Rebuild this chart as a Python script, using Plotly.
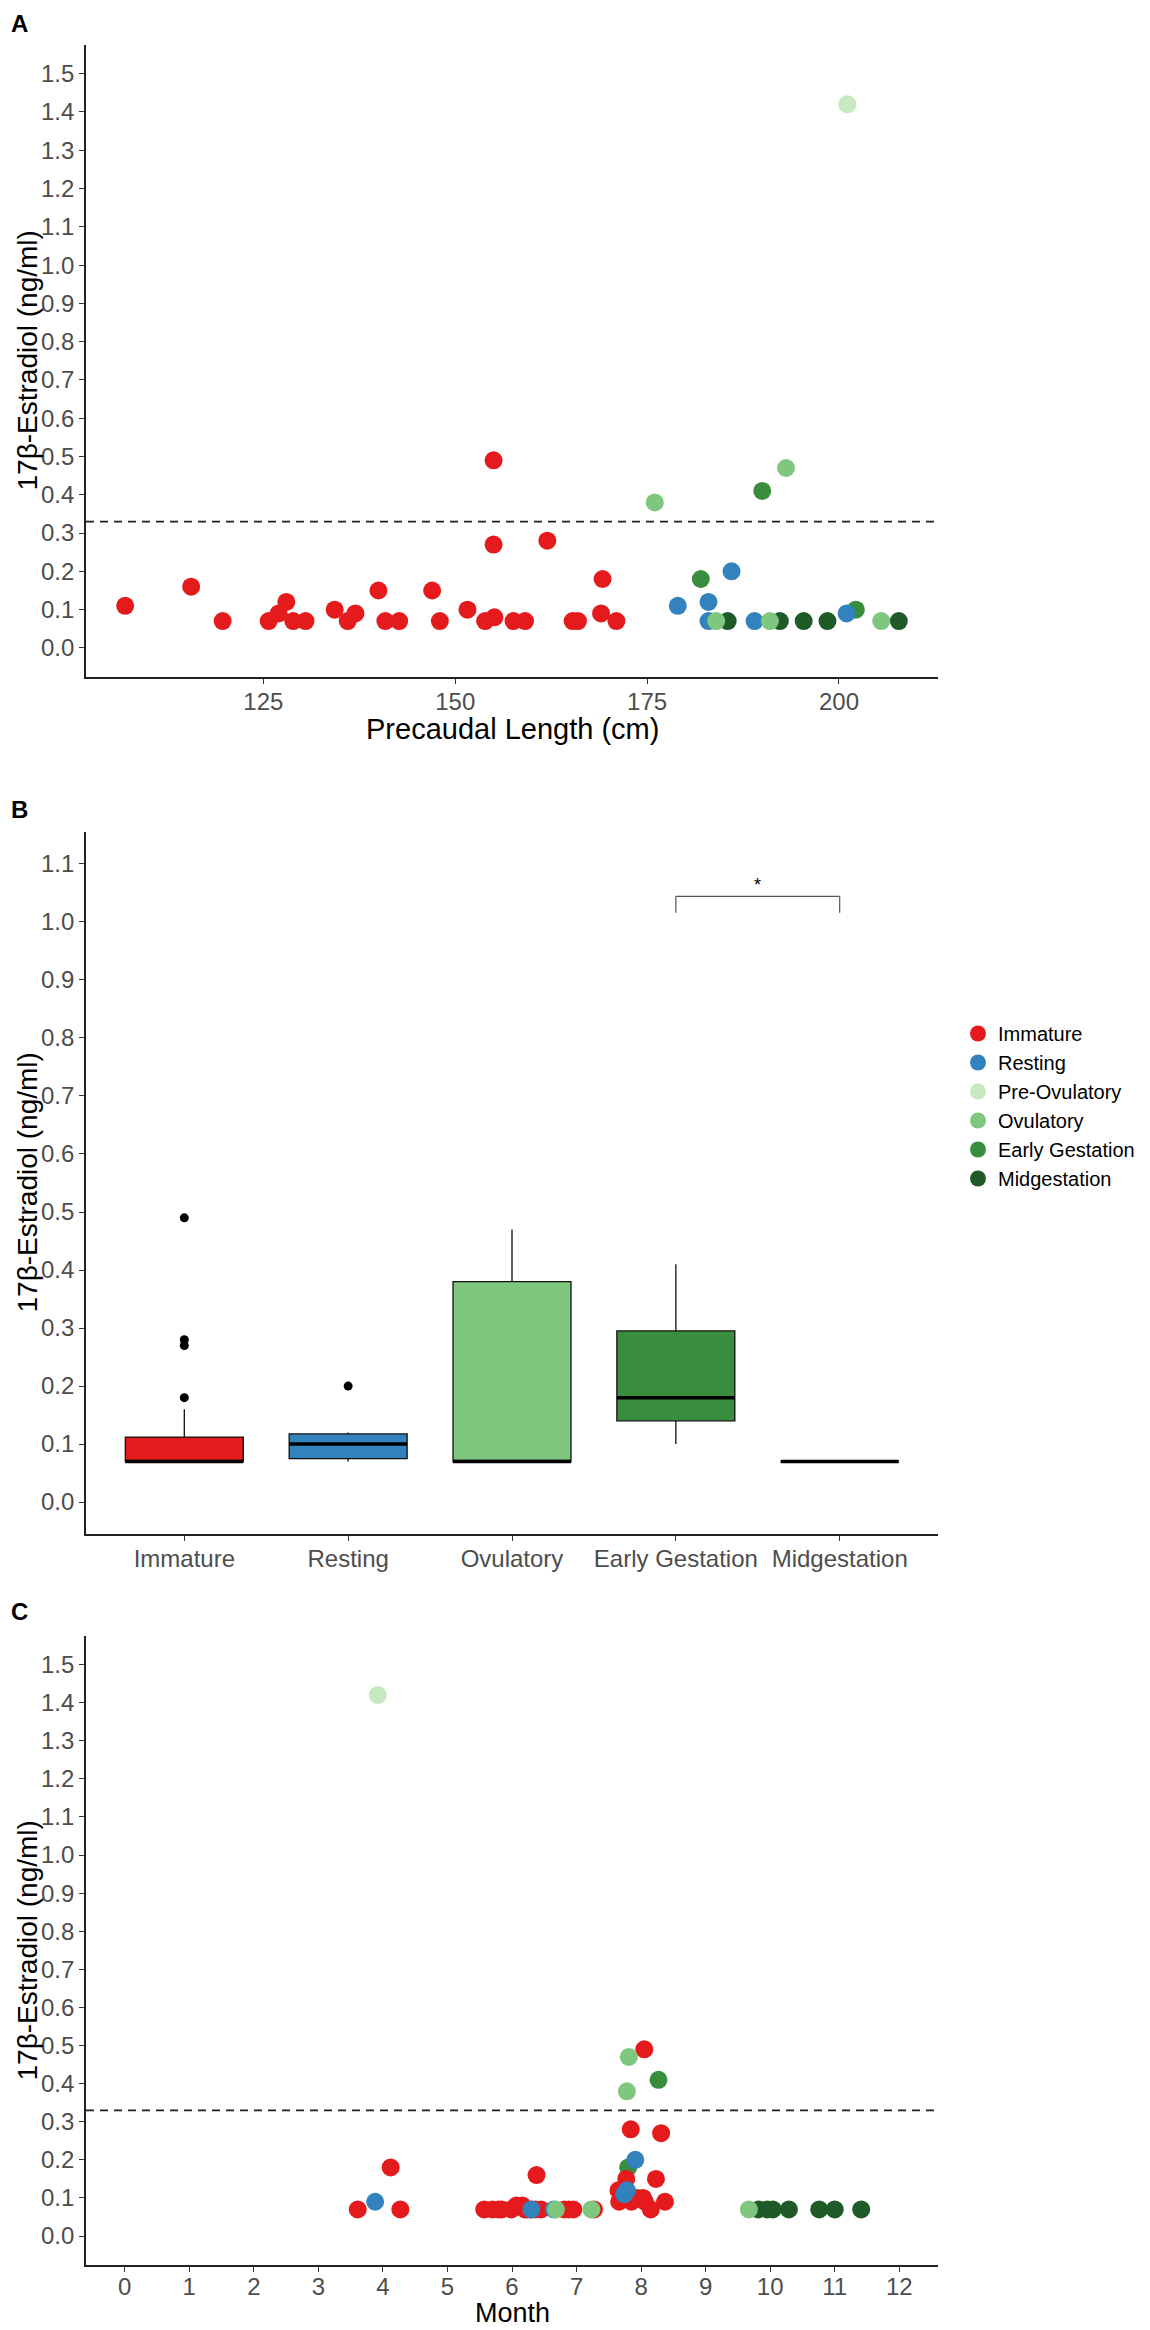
import plotly.graph_objects as go

# stage names and colours
stages = ["Immature", "Resting", "Pre-Ovulatory", "Ovulatory", "Early Gestation", "Midgestation"]
stage_colors = ["#E41A1C", "#3182BD", "#C7E9C0", "#7FC77F", "#388E3C", "#1F5A28"]

# panel A: precaudal length (cm) vs estradiol (ng/ml)
imm_len = [107, 115.6, 119.7, 125.7, 127.0, 128.0, 128.9, 130.5, 134.3, 136.0, 137.0, 140.0, 140.9, 142.7, 147.0,
           148.0, 151.6, 153.9, 155.1, 155.0, 155.0, 157.6, 159.1, 162.0, 165.3, 166.0, 169.0, 169.2, 171.0]
imm_e2_a = [0.11, 0.16, 0.07, 0.07, 0.09, 0.12, 0.07, 0.07, 0.10, 0.07, 0.09, 0.15, 0.07, 0.07, 0.15,
            0.07, 0.10, 0.07, 0.08, 0.27, 0.49, 0.07, 0.07, 0.28, 0.07, 0.07, 0.09, 0.18, 0.07]
rest_len = [179.0, 183.0, 183.0, 186.0, 189.0, 201.0]
rest_e2_a = [0.11, 0.12, 0.07, 0.20, 0.07, 0.09]
preov_len = [201.1]
preov_e2_a = [1.42]
ov_len = [176.0, 184.0, 191.0, 193.1, 205.5]
ov_e2_a = [0.38, 0.07, 0.07, 0.47, 0.07]
early_len = [182.0, 190.0, 202.2]
early_e2_a = [0.18, 0.41, 0.10]
mid_len = [185.5, 192.3, 195.4, 198.5, 207.8]
mid_e2_a = [0.07, 0.07, 0.07, 0.07, 0.07]

# panel B: box statistics per stage
box_stages = ["Immature", "Resting", "Ovulatory", "Early Gestation", "Midgestation"]
box_colors = ["#E41A1C", "#3182BD", "#7FC77F", "#388E3C", "#1F5A28"]
box_q1 = [0.07, 0.075, 0.07, 0.14, 0.07]
box_med = [0.07, 0.10, 0.07, 0.18, 0.07]
box_q3 = [0.112, 0.1175, 0.38, 0.295, 0.07]
box_lo = [0.07, 0.07, 0.07, 0.10, 0.07]
box_hi = [0.16, 0.12, 0.47, 0.41, 0.07]
out_stage = ["Immature", "Immature", "Immature", "Immature", "Resting"]
out_e2 = [0.49, 0.28, 0.27, 0.18, 0.20]

# panel C: month vs estradiol
imm_month = [3.61, 4.12, 4.27, 5.57, 5.70, 5.79, 5.84, 5.99, 6.07, 6.16, 6.20, 6.24, 6.30, 6.36, 6.38, 6.45, 6.81,
             6.88, 6.95, 7.27, 7.65, 7.66, 7.77, 7.84, 7.85, 7.90, 8.03, 8.05, 8.06, 8.15, 8.23, 8.31, 8.37]
imm_e2_c = [0.07, 0.18, 0.07, 0.07, 0.07, 0.07, 0.07, 0.07, 0.08, 0.08, 0.07, 0.07, 0.07, 0.07, 0.16, 0.07, 0.07,
            0.07, 0.07, 0.07, 0.12, 0.09, 0.15, 0.28, 0.09, 0.10, 0.10, 0.49, 0.09, 0.07, 0.15, 0.27, 0.09]
rest_month = [3.88, 6.30, 6.65, 7.74, 7.78, 7.91]
rest_e2_c = [0.09, 0.07, 0.07, 0.11, 0.12, 0.20]
preov_month = [3.92]
preov_e2_c = [1.42]
ov_month = [6.68, 7.23, 7.78, 7.81, 9.67]
ov_e2_c = [0.07, 0.07, 0.38, 0.47, 0.07]
early_month = [7.80, 7.95, 8.27]
early_e2_c = [0.18, 0.10, 0.41]
mid_month = [9.82, 9.96, 10.04, 10.29, 10.76, 11.00, 11.41]
mid_e2_c = [0.07, 0.07, 0.07, 0.07, 0.07, 0.07, 0.07]

threshold = 0.33

OFF = 8  ## the page body has an 8px margin, so the figure starts at (8, 8)
W, H = 1150 - OFF, 2330 - OFF
FONT = "Liberation Sans, Arial, sans-serif"
TICK_GREY = "#4D4D4D"

def px_x(p):  ## page pixel -> paper fraction
    return (p - OFF) / W

def px_y(p):
    return 1 - (p - OFF) / H

fig = go.Figure()

a_data = [(imm_len, imm_e2_a), (rest_len, rest_e2_a), (preov_len, preov_e2_a),
          (ov_len, ov_e2_a), (early_len, early_e2_a), (mid_len, mid_e2_a)]
c_data = [(imm_month, imm_e2_c), (rest_month, rest_e2_c), (preov_month, preov_e2_c),
          (ov_month, ov_e2_c), (early_month, early_e2_c), (mid_month, mid_e2_c)]
draw_order = [5, 4, 0, 1, 3, 2]

for i in draw_order:
    x, y = a_data[i]
    fig.add_trace(go.Scatter(x=x, y=y, mode="markers", name=stages[i], legendrank=i + 1,
                             marker=dict(color=stage_colors[i], size=18, line=dict(width=0)),
                             xaxis="x", yaxis="y"))
for i in draw_order:
    x, y = c_data[i]
    fig.add_trace(go.Scatter(x=x, y=y, mode="markers", name=stages[i], showlegend=False,
                             marker=dict(color=stage_colors[i], size=18, line=dict(width=0)),
                             xaxis="x3", yaxis="y3"))

for i, s in enumerate(box_stages):
    fig.add_trace(go.Box(x=[s], q1=[box_q1[i]], median=[box_med[i]], q3=[box_q3[i]],
                         lowerfence=[box_lo[i]], upperfence=[box_hi[i]], width=0.72,
                         whiskerwidth=0, fillcolor=box_colors[i], line=dict(color="#111111", width=1.3),
                         showlegend=False, hoverinfo="skip", xaxis="x2", yaxis="y2"))
fig.add_trace(go.Scatter(x=out_stage, y=out_e2, mode="markers", showlegend=False,
                         marker=dict(color="black", size=9), xaxis="x2", yaxis="y2"))

shapes = []
for i, m in enumerate(box_med):  ## thicker median bar like ggplot
    shapes.append(dict(type="line", xref="x2", yref="y2", x0=i - 0.36, x1=i + 0.36, y0=m, y1=m,
                       line=dict(color="black", width=3.5)))
for ax in ["", "3"]:
    shapes.append(dict(type="line", xref=f"x{ax} domain", yref=f"y{ax}", x0=0, x1=1,
                       y0=threshold, y1=threshold, line=dict(color="#222222", width=1.8, dash="8px,6px")))
# significance bracket between Early Gestation and Midgestation
for x0, y0, x1, y1 in [(3, 1.016, 3, 1.044), (3, 1.044, 4, 1.044), (4, 1.044, 4, 1.016)]:
    shapes.append(dict(type="line", xref="x2", yref="y2", x0=x0, y0=y0, x1=x1, y1=y1,
                       line=dict(color="#555555", width=1.2)))

axis_common = dict(showline=True, linecolor="#222222", linewidth=1.6, ticks="outside", ticklen=5,
                   tickwidth=1.4, tickcolor="#333333", showgrid=False, zeroline=False,
                   tickfont=dict(family=FONT, size=24, color=TICK_GREY))
xdom = [px_x(86), px_x(938)]

fig.update_layout(
    width=W, height=H, margin=dict(l=0, r=0, t=0, b=0),
    paper_bgcolor="white", plot_bgcolor="white",
    font=dict(family=FONT, color="black"),
    xaxis=dict(domain=xdom, range=[101.9, 212.9], tickvals=[125, 150, 175, 200], anchor="y",
               ticklabelstandoff=-3, **axis_common),
    yaxis=dict(domain=[px_y(677), px_y(45)], range=[-0.076, 1.575], tickvals=[k / 10 for k in range(16)],
               tickformat=".1f", anchor="x", **axis_common),
    xaxis2=dict(domain=xdom, type="category", categoryorder="array", categoryarray=box_stages,
                range=[-0.6, 4.6], anchor="y2", ticklabelstandoff=-3, **axis_common),
    yaxis2=dict(domain=[px_y(1534), px_y(832)], range=[-0.055, 1.155], tickvals=[k / 10 for k in range(12)],
                tickformat=".1f", anchor="x2", **axis_common),
    xaxis3=dict(domain=xdom, range=[-0.6, 12.6], tickvals=list(range(13)), anchor="y3",
                ticklabelstandoff=-6, **axis_common),
    yaxis3=dict(domain=[px_y(2265), px_y(1636)], range=[-0.076, 1.575], tickvals=[k / 10 for k in range(16)],
                tickformat=".1f", anchor="x3", **axis_common),
    boxmode="overlay",
    shapes=shapes,
    legend=dict(x=px_x(958), y=px_y(1014), xanchor="left", yanchor="top",
                font=dict(family=FONT, size=20, color="black"), bgcolor="rgba(0,0,0,0)",
                tracegroupgap=0),
)

ann = []
for label, ytop in [("A", 8), ("B", 794), ("C", 1596)]:
    ann.append(dict(text=f"<b>{label}</b>", x=px_x(9), y=px_y(ytop), xref="paper", yref="paper",
                    xanchor="left", yanchor="top", showarrow=False,
                    font=dict(family=FONT, size=24, color="black")))
ytitle = "17\u03b2-Estradiol (ng/ml)"
for yc in [361, 1183, 1951]:
    ann.append(dict(text=ytitle, x=px_x(9), y=px_y(yc), xref="paper", yref="paper", textangle=-90,
                    xanchor="left", yanchor="middle", showarrow=False,
                    font=dict(family=FONT, size=28, color="black")))
ann.append(dict(text="Precaudal Length (cm)", x=px_x(512), y=px_y(729), xref="paper", yref="paper",
                xanchor="center", yanchor="middle", showarrow=False, font=dict(family=FONT, size=29, color="black")))
ann.append(dict(text="Month", x=px_x(512), y=0, xref="paper", yref="paper",
                xanchor="center", yanchor="bottom", showarrow=False, font=dict(family=FONT, size=27, color="black")))
ann.append(dict(text="*", x=3.5, y=1.064, xref="x2", yref="y2", showarrow=False,
                font=dict(family=FONT, size=18, color="black")))
fig.update_layout(annotations=ann)

fig.write_html("out.html")
